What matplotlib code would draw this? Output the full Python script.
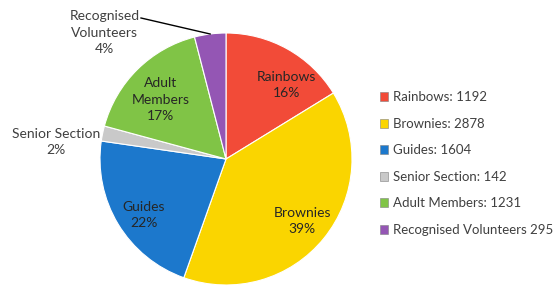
import numpy as np
import matplotlib
matplotlib.use("Agg")
import matplotlib.pyplot as plt
from matplotlib.patches import Patch

# data
categories = ["Rainbows", "Brownies", "Guides", "Senior Section",
              "Adult Members", "Recognised Volunteers"]
members = [1192, 2878, 1604, 142, 1231, 295]
legend_labels = ["Rainbows: 1192", "Brownies: 2878", "Guides: 1604",
                 "Senior Section: 142", "Adult Members: 1231",
                 "Recognised Volunteers 295"]
pie_names = ["Rainbows", "Brownies", "Guides", "Senior Section",
             "Adult\nMembers", "Recognised\nVolunteers"]

colors = ["#F24B38", "#FAD500", "#1C78CC", "#C9C9C9", "#80C446", "#9456B4"]

# label placement: (angle shift in degrees, distance as fraction of radius)
label_pos = [(-10, 0.76), (0, 0.78), (3, 0.79), (6, 1.355), (3, 0.70), (36.6, 1.39)]

plt.rcParams['font.family'] = ['Lato', 'DejaVu Sans']

fig = plt.figure(figsize=(5.55, 2.9), dpi=100)
ax = fig.add_axes([0, 0, 1, 1])
ax.set_aspect('equal')
ax.axis('off')

cx, cy, R = 226, 131, 126
wedges, _ = ax.pie(members, colors=colors, startangle=90, counterclock=False,
                   center=(cx, cy), radius=R,
                   wedgeprops=dict(edgecolor='white', linewidth=0.8))
ax.set_xlim(0, 555)
ax.set_ylim(0, 290)

total = sum(members)
for w, name, val, (shift, dist) in zip(wedges, pie_names, members, label_pos):
    mid = np.deg2rad((w.theta1 + w.theta2) / 2 + shift)
    x = cx + dist * R * np.cos(mid)
    y = cy + dist * R * np.sin(mid)
    pct = "%d%%" % round(100 * val / total)
    col = '#262626' if dist < 1 else '#404040'
    ax.text(x, y, name + "\n" + pct, ha='center', va='center', fontsize=10,
            color=col, linespacing=1.45)

# leader line for the small purple slice
w = wedges[5]
mid = np.deg2rad((w.theta1 + w.theta2) / 2)
ax.plot([cx + R * np.cos(mid), 141], [cy + R * np.sin(mid), 272],
        color='black', lw=1)

handles = [Patch(facecolor=c, edgecolor='#808080', linewidth=0.4) for c in colors]
ax.legend(handles, legend_labels, loc='upper left', frameon=False,
          bbox_to_anchor=(375 / 555, 1 - 86 / 290), fontsize=9.5,
          handlelength=0.6, handleheight=0.65, handletextpad=0.35,
          labelspacing=1.1, labelcolor='#404040', borderaxespad=0)

fig.savefig("out.png", dpi=100)
